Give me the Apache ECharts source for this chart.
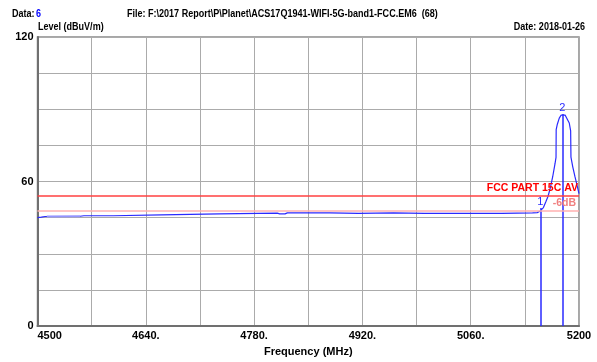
<!DOCTYPE html>
<html><head><meta charset="utf-8">
<script src="https://cdn.jsdelivr.net/npm/echarts@6/dist/echarts.min.js"></script>
<style>html,body{margin:0;padding:0;background:#fff}#c{width:597px;height:362px}</style>
</head><body><div id="c"></div>
<script>
// ---- data ----
const freqs = [4500,4505,4510,4555,4560,4598,4600,4660,4662,4735,4737,4810,4813,4820,4823,4878,4880,4915,4917,4960,4962,5000,5050,5100,5102,5140,5146,5150,5154,5157,5160,5163,5166,5169,5170.3,5170.5,5172,5174.5,5177,5179,5182,5184,5187.4,5189.2,5189.6,5192,5194.8,5197.8,5200];
const levels = [45.0,45.2,45.5,45.6,45.8,45.8,46.2,46.2,46.6,46.6,46.9,46.9,46.6,46.6,47.0,47.0,46.8,46.8,47.0,47.0,46.8,46.8,46.8,46.8,47.0,47.0,47.1,47.8,49.2,51.5,53.9,57.5,62.0,67.4,70.0,81.6,83.8,86.3,87.6,88.0,87.6,87.0,84.3,81.0,70.1,66.0,62.0,58.0,55.0];
const overlayFreqs = [4512, 4555];
const overlayLevels = [45.5, 45.6];
const limitFCC = 54;
const limit6dB = 48;
const markerFreqs = [5150, 5178.5];
const markerTops = [49, 88];
const markerNames = ['1', '2'];
const xTickLabels = {4500:'4500',4640:'4640.',4780:'4780.',4920:'4920.',5060:'5060.',5200:'5200'};
const yTickLabels = {0:'0',60:'60',120:'120'};

const F = "'Liberation Sans',Arial,sans-serif";
const chart = echarts.init(document.getElementById('c'), null, {renderer:'canvas'});
const trace = freqs.map((f,i)=>[f,levels[i]]);
const overlay = overlayFreqs.map((f,i)=>[f,overlayLevels[i]]);
const hdr = (text, x, y, fill, align, sx) => ({type:'text', x:x, y:y, scaleX:sx||0.82, z:10,
  style:{text:text, fill:fill||'#000', font:"bold 11px "+F, align:align||'left', verticalAlign:'top'}});
chart.setOption({
  animation:false,
  grid:{left:37.5,right:18,top:37,bottom:29,show:true,borderColor:'#8a8a8a',borderWidth:1.5},
  xAxis:{type:'value',min:4500,max:5200,interval:70,
    axisLine:{show:true,onZero:false,lineStyle:{color:'#707070',width:2}},
    axisTick:{show:false},
    splitLine:{show:true,lineStyle:{color:'#ababab',width:1}},
    axisLabel:{show:true,margin:4,color:'#000',fontFamily:F,fontWeight:'bold',fontSize:11,
      formatter:v=>xTickLabels[Math.round(v)]||'',alignMinLabel:'left',alignMaxLabel:'center',showMinLabel:true,showMaxLabel:true},
    name:'Frequency (MHz)',nameLocation:'middle',nameGap:17,
    nameTextStyle:{color:'#000',fontFamily:F,fontWeight:'bold',fontSize:11}},
  yAxis:{type:'value',min:0,max:120,interval:15,
    axisLine:{show:true,lineStyle:{color:'#707070',width:2}},
    axisTick:{show:false},
    splitLine:{show:true,lineStyle:{color:'#ababab',width:1}},
    axisLabel:{show:true,margin:4,color:'#000',fontFamily:F,fontWeight:'bold',fontSize:11,
      formatter:v=>yTickLabels[Math.round(v)]||'',showMinLabel:true,showMaxLabel:true}},
  series:[
    {type:'line',data:overlay,symbol:'none',silent:true,lineStyle:{color:'#9494ff',width:2.2},z:4},
    {type:'line',data:trace,symbol:'none',lineStyle:{color:'#2a2aff',width:1.2},z:3,
      markLine:{symbol:'none',silent:true,lineStyle:{color:'#2a2aff',width:1.5,type:'solid'},
        label:{show:true,position:'end',color:'#2a2aff',fontFamily:F,fontSize:11,distance:1},
        data:markerFreqs.map((f,i)=>[{coord:[f,0],label:{formatter:markerNames[i]}},{coord:[f,markerTops[i]]}])}},
    {type:'line',data:[],z:2,
      markLine:{symbol:'none',silent:true,
        data:[
          {yAxis:limitFCC,lineStyle:{color:'#ff4040',width:1.5,type:'solid'},
            label:{show:true,position:'insideEndTop',formatter:'FCC PART 15C AV',color:'#ff0000',fontFamily:F,fontWeight:'bold',fontSize:10.5,distance:[1,2]}},
          {yAxis:limit6dB,lineStyle:{color:'#ffb0b0',width:1.5,type:'solid'},
            label:{show:true,position:'insideEndTop',formatter:'-6dB',color:'#f08080',fontFamily:F,fontWeight:'bold',fontSize:10.5,distance:[3,2]}}
        ]}}
  ],
  graphic:[
    hdr('Data:',12,8),
    hdr('6',36,8,'#0000ff'),
    hdr('File: F:\\2017 Report\\P\\Planet\\ACS17Q1941-WIFI-5G-band1-FCC.EM6  (68)',127,8),
    hdr('Level (dBuV/m)',38,21),
    {type:'text', x:585, y:21, scaleX:0.82, z:10,
      style:{text:'Date: 2018-01-26', fill:'#000', font:"bold 11px "+F, align:'right', verticalAlign:'top'}}
  ]
});
</script></body></html>
